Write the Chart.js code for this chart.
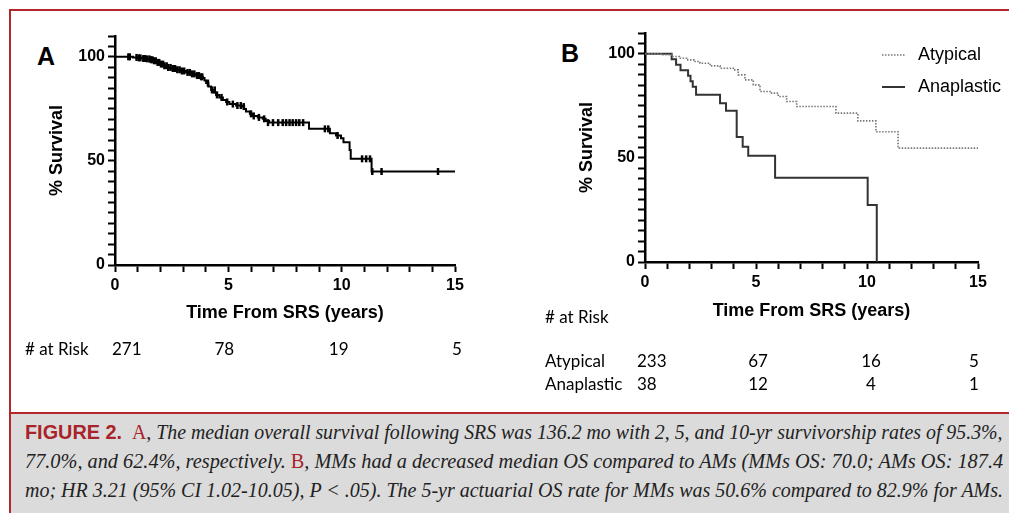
<!DOCTYPE html>
<html>
<head>
<meta charset="utf-8">
<script src="https://cdn.jsdelivr.net/npm/chart.js@4.4.1/dist/chart.umd.min.js"></script>
<style>
  html,body{margin:0;padding:0;background:#fff;}
  body{width:1009px;height:513px;position:relative;overflow:hidden;font-family:"Liberation Sans",Arial,sans-serif;}
  #frameTop{position:absolute;left:9px;top:9px;width:1000px;height:2px;background:#b3262b;}
  #frameLeft{position:absolute;left:9px;top:9px;width:2px;height:504px;background:#b3262b;}
  #capBox{position:absolute;left:11px;top:412px;width:998px;height:101px;background:#dbdbdb;border-top:2px solid #b3262b;}
  .ln{position:absolute;left:25px;white-space:nowrap;font-family:"Liberation Serif","Times New Roman",serif;font-style:italic;font-size:20px;line-height:20px;color:#222;transform-origin:0 0;}
  .fig{font-family:"Liberation Sans Narrow","Liberation Sans",Arial,sans-serif;font-style:normal;font-weight:bold;color:#a8242a;font-size:20px;}
  .red{font-style:normal;color:#a8242a;}
  .panel{position:absolute;font-weight:bold;font-size:25px;line-height:25px;color:#000;}
  canvas{position:absolute;}
</style>
</head>
<body>
<div id="frameTop"></div>
<div id="frameLeft"></div>
<div id="capBox"></div>
<div class="ln" id="l1" style="top:422px;"><span class="fig">FIGURE 2.</span>&nbsp; <span class="red">A</span>, The median overall survival following SRS was 136.2 mo with 2, 5, and 10-yr survivorship rates of 95.3%,</div>
<div class="ln" id="l2" style="top:451px;">77.0%, and 62.4%, respectively. <span class="red">B</span>, MMs had a decreased median OS compared to AMs (MMs OS: 70.0; AMs OS: 187.4</div>
<div class="ln" id="l3" style="top:480px;">mo; HR 3.21 (95% CI 1.02-10.05), <i>P</i> &lt; .05). The 5-yr actuarial OS rate for MMs was 50.6% compared to 82.9% for AMs.</div>

<div class="panel" style="left:37px;top:44px;">A</div>
<div class="panel" style="left:561px;top:41px;">B</div>

<canvas id="cA" width="505" height="405" style="left:0;top:0;width:505px;height:405px;"></canvas>
<canvas id="cB" width="504" height="405" style="left:505px;top:0;width:504px;height:405px;"></canvas>

<script>
// ---------- DATA ----------
// Panel A: overall Kaplan-Meier curve (time in years, % survival after each step)
const timesA = [0,0.79,1.0,1.2,1.37,1.5,1.66,1.8,1.96,2.1,2.25,2.45,2.7,2.9,3.14,3.35,3.58,3.75,3.88,3.95,4.02,4.12,4.24,4.35,4.46,4.6,4.76,4.9,5.05,5.34,5.64,5.7,5.78,5.95,6.08,6.3,6.52,6.65,6.8,8.56,9.48,9.75,9.97,10.08,10.35,10.4,11.32,15];
const survA  = [100,99.7,99.5,99.2,99.0,98.6,98.1,97.3,96.5,95.7,94.9,94.4,93.8,93.2,92.5,91.8,91.0,90.4,89.8,88.6,87.4,85.8,84.1,82.9,81.7,80.5,79.3,78.3,77.3,76.6,76.1,74.9,73.7,72.6,71.6,70.9,70.2,69.2,68.4,65.4,63.3,62.2,60.9,59.0,55.3,51.0,44.9,44.9];
// Panel A: censor marks
const censorTimesA = [0.59,0.65,0.95,1.05,1.12,1.25,1.32,1.42,1.52,1.58,1.65,1.72,1.8,1.88,1.95,2.03,2.12,2.18,2.28,2.35,2.45,2.55,2.65,2.75,2.85,2.95,3.05,3.2,3.3,3.4,3.5,3.62,3.7,3.8,3.85,4.1,4.28,4.4,4.5,4.7,4.95,5.2,5.4,5.55,5.68,6.0,6.12,6.35,6.58,6.75,6.97,7.2,7.4,7.55,7.7,7.84,7.99,8.13,8.3,9.26,9.41,9.82,10.9,11.08,11.25,11.35,11.76,14.25];
const censorSurvA  = [100,100,99.7,99.5,99.5,99.2,99.2,99.0,99.0,98.6,98.6,98.1,98.1,97.3,97.3,96.5,96.5,95.7,95.7,94.9,94.9,94.4,94.4,93.8,93.8,93.2,93.2,92.5,92.5,91.8,91.8,91.0,91.0,90.4,90.4,87.4,84.1,84.1,81.7,80.5,78.3,77.3,76.6,76.6,76.1,72.6,71.6,70.9,70.2,68.4,68.4,68.4,68.4,68.4,68.4,68.4,68.4,68.4,68.4,65.4,65.4,62.2,51.0,51.0,51.0,44.9,44.9,44.9];

// Panel B: Atypical vs Anaplastic
const timesAtypical = [0,0.75,1.2,1.55,1.88,2.2,2.48,2.93,3.38,3.98,4.2,4.5,4.88,5.18,5.7,6.0,6.38,6.83,8.6,9.59,10.4,11.4,15];
const survAtypical  = [100,99.6,98.7,97.9,97.1,96.3,95.5,94.2,93.1,92.3,89.9,87.5,85.1,81.9,81.1,79.5,77.1,74.7,71.5,67.8,62.6,54.7,54.7];
const timesAnaplastic = [0,1.2,1.4,1.6,1.94,2.05,2.15,2.3,3.38,3.65,4.13,4.4,4.65,5.86,10.03,10.44];
const survAnaplastic  = [100,97.4,94.7,92.1,89.5,86.8,84.2,80.3,76.3,72.6,60.0,55.4,51.0,40.5,27.4,0];

// Numbers at risk
const riskTimes = [0,5,10,15];
const riskAll = [271,78,19,5];
const riskAtypical = [233,67,16,5];
const riskAnaplastic = [38,12,4,1];

const seriesNames = ['Atypical','Anaplastic'];
const yTicksLabeled = [0,50,100];
const xTicksLabeled = [0,5,10,15];

// ---------- helpers ----------
const toXY = (xs, ys) => xs.map((x,i)=>({x:x,y:ys[i]}));
const FONT = '"Liberation Sans", Arial, sans-serif';
const RISKFONT = 'Lato, "Open Sans", sans-serif';

function scales(){
  return {
    x:{type:'linear',min:0,max:15,
       afterFit(s){s.height=60;},
       ticks:{stepSize:1,autoSkip:false,maxRotation:0,padding:4,color:'#000',
              font:{family:FONT,size:16,weight:'bold'},
              callback:(v)=> xTicksLabeled.includes(v)? String(v):''},
       grid:{drawOnChartArea:false,drawTicks:true,tickLength:7,tickWidth:2,tickColor:'#000'},
       border:{color:'#000',width:2.5},
       title:{display:true,text:'Time From SRS (years)',color:'#000',font:{family:FONT,size:18,weight:'bold'},padding:{top:0,bottom:1}}
    },
    y:{type:'linear',min:0,max:110,
       afterFit(s){s.width=100;},
       ticks:{stepSize:5,autoSkip:false,padding:3,color:'#000',
              font:{family:FONT,size:16,weight:'bold'},
              callback:(v)=> yTicksLabeled.includes(v)? String(v):''},
       grid:{drawOnChartArea:false,drawTicks:true,tickLength:7,tickWidth:2,tickColor:'#000'},
       border:{color:'#000',width:2.5},
       title:{display:true,text:'% Survival',color:'#000',font:{family:FONT,size:18,weight:'bold'},padding:{top:31,bottom:0}}
    }
  };
}

// at-risk table plugin
function riskPlugin(rows, headerPos, nudges){
  return {id:'risk',afterDraw(chart){
    const ctx=chart.ctx, xs=chart.scales.x;
    ctx.save();
    ctx.fillStyle='#000';
    ctx.font='17px '+RISKFONT;
    ctx.textBaseline='middle';
    ctx.textAlign='left';
    ctx.fillText('# at Risk', headerPos.x, headerPos.y);
    rows.forEach(r=>{
      if(r.label){ctx.textAlign='left';ctx.fillText(r.label, headerPos.x, r.y);}
      r.values.forEach((v,i)=>{
        const px = xs.getPixelForValue(riskTimes[i]) + nudges[i];
        ctx.textAlign = i===0 ? 'left':'center';
        ctx.fillText(String(v), px, r.y);
      });
    });
    ctx.restore();
  }};
}

const legendPlugin = {id:'legendB',afterDraw(chart){
  const ctx=chart.ctx;
  ctx.save();
  const items=[{y:55,dash:[1.5,1.5],color:'#777',w:1.6},{y:87,dash:[],color:'#333',w:2}];
  items.forEach((it,i)=>{
    ctx.beginPath();
    ctx.setLineDash(it.dash);
    ctx.strokeStyle=it.color;ctx.lineWidth=it.w;
    ctx.moveTo(377,it.y);ctx.lineTo(400,it.y);ctx.stroke();
    ctx.setLineDash([]);
    ctx.fillStyle='#000';ctx.font='18px '+FONT;ctx.textAlign='left';ctx.textBaseline='middle';
    ctx.fillText(chart.data.datasets[i].label,413,it.y);
  });
  ctx.restore();
}};

// ---------- Chart A ----------
new Chart(document.getElementById('cA'),{
  type:'line',
  data:{datasets:[
    {label:'All',data:toXY(timesA,survA),stepped:'before',borderColor:'#000',borderWidth:2,pointRadius:0,fill:false},
    {label:'Censored',type:'scatter',data:toXY(censorTimesA,censorSurvA),pointStyle:'line',rotation:90,pointRadius:3.5,borderColor:'#000',backgroundColor:'#000',pointBorderWidth:2.5,showLine:false}
  ]},
  options:{responsive:false,animation:false,
    layout:{padding:{left:15,right:50,top:36,bottom:80}},
    plugins:{legend:{display:false},tooltip:{enabled:false}},
    scales:scales()
  },
  plugins:[riskPlugin([{values:riskAll,y:350}],{x:25,y:350},[-3,-4,-3,2])]
});

// ---------- Chart B ----------
new Chart(document.getElementById('cB'),{
  type:'line',
  data:{datasets:[
    {label:seriesNames[0],data:toXY(timesAtypical,survAtypical),stepped:'before',borderColor:'#777',borderWidth:1.6,borderDash:[1.5,1.5],pointRadius:0,fill:false},
    {label:seriesNames[1],data:toXY(timesAnaplastic,survAnaplastic),stepped:'before',borderColor:'#333',borderWidth:2,pointRadius:0,fill:false}
  ]},
  options:{responsive:false,animation:false,
    layout:{padding:{left:40,right:31,top:33,bottom:83}},
    plugins:{legend:{display:false},tooltip:{enabled:false}},
    scales:(()=>{const s=scales();s.x.title.padding={top:0,bottom:0};return s;})()
  },
  plugins:[legendPlugin,riskPlugin([{label:seriesNames[0],values:riskAtypical,y:362},{label:seriesNames[1],values:riskAnaplastic,y:385}],{x:40,y:318},[-8,2,4,-4])]
});

// fit caption lines to the box width
['l1','l2','l3'].forEach(id=>{
  const el=document.getElementById(id);
  const w=el.scrollWidth;
  el.style.transform='scaleX('+(978/w)+')';
});
</script>
</body>
</html>
